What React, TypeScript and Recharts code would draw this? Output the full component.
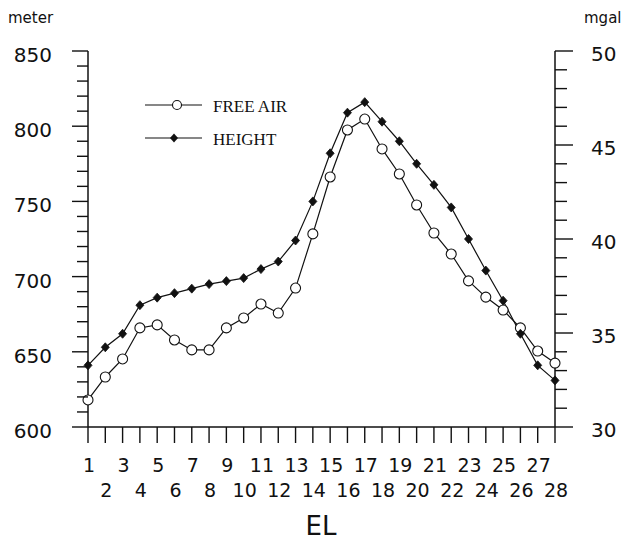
import React from 'react';
import { LineChart, Line, XAxis, YAxis, Legend } from 'recharts';

const categories = [1, 2, 3, 4, 5, 6, 7, 8, 9, 10, 11, 12, 13, 14, 15, 16, 17, 18, 19, 20, 21, 22, 23, 24, 25, 26, 27, 28];
const heightMeters = [641, 653, 662, 681, 686, 689, 692, 695, 697, 699, 705, 710, 724, 750, 782, 809, 816, 803, 790, 775, 761, 746, 725, 704, 684, 662, 641, 631];
const freeAirMgal = [31.44, 32.66, 33.62, 35.27, 35.43, 34.63, 34.1, 34.1, 35.27, 35.8, 36.54, 36.06, 37.39, 40.27, 43.3, 45.8, 46.38, 44.79, 43.46, 41.81, 40.32, 39.2, 37.77, 36.91, 36.22, 35.27, 34.04, 33.4];
const leftTicks = [600, 610, 620, 630, 640, 650, 660, 670, 680, 690, 700, 710, 720, 730, 740, 750, 760, 770, 780, 790, 800, 810, 820, 830, 840, 850];
const rightTicks = [30, 31, 32, 33, 34, 35, 36, 37, 38, 39, 40, 41, 42, 43, 44, 45, 46, 47, 48, 49, 50];

const data = categories.map((c, i) => ({ el: c, height: heightMeters[i], freeAir: freeAirMgal[i] }));

const INK = '#111';
const NUM_FONT = '"DejaVu Sans", sans-serif';
const SERIF = '"Liberation Serif", "Times New Roman", serif';

const LeftTick = (props: any) => {
  const { x, y, payload } = props;
  const major = payload.value % 50 === 0;
  return (
    <g>
      <line x1={x - (major ? 16 : 11)} x2={x} y1={y} y2={y} stroke={INK} strokeWidth={1.4} />
      {major && (
        <text x={x - 36} y={y + 4} textAnchor="end" dominantBaseline="central" fontFamily={NUM_FONT} fontSize={20} fill={INK}>
          {payload.value}
        </text>
      )}
    </g>
  );
};

const RightTick = (props: any) => {
  const { x, y, payload } = props;
  const major = payload.value % 5 === 0;
  return (
    <g>
      <line x1={x} x2={x + (major ? 18 : 12)} y1={y} y2={y} stroke={INK} strokeWidth={1.4} />
      {major && (
        <text x={x + 36} y={y + 3} textAnchor="start" dominantBaseline="central" fontFamily={NUM_FONT} fontSize={20} fill={INK}>
          {payload.value}
        </text>
      )}
    </g>
  );
};

const BottomTick = (props: any) => {
  const { x, y, payload } = props;
  const odd = payload.value % 2 === 1;
  return (
    <g>
      <line x1={x} x2={x} y1={y} y2={y + 16} stroke={INK} strokeWidth={1.4} />
      <text x={x + 1} y={y + (odd ? 38 : 63)} textAnchor="middle" dominantBaseline="central" fontFamily={NUM_FONT} fontSize={19} fill={INK}>
        {payload.value}
      </text>
    </g>
  );
};

const TopTick = (props: any) => {
  const { x, y } = props;
  return <line x1={x} x2={x} y1={y} y2={y - 15} stroke={INK} strokeWidth={1.4} />;
};

const CircleDot = (props: any) => {
  const { cx, cy } = props;
  if (cx == null || cy == null) return null;
  return <circle cx={cx} cy={cy} r={5} fill="#fff" stroke={INK} strokeWidth={1.1} />;
};

const DiamondDot = (props: any) => {
  const { cx, cy } = props;
  if (cx == null || cy == null) return null;
  return <polygon points={`${cx},${cy - 4.5} ${cx + 4},${cy} ${cx},${cy + 4.5} ${cx - 4},${cy}`} fill={INK} stroke={INK} strokeWidth={0.8} />;
};

const LegendContent = () => (
  <svg width={200} height={60} style={{ display: 'block' }}>
    <line x1={5} x2={62} y1={15} y2={15} stroke={INK} strokeWidth={1.1} />
    <circle cx={37} cy={15} r={4.5} fill="#fff" stroke={INK} strokeWidth={1.1} />
    <text x={73} y={16} dominantBaseline="central" fontFamily={SERIF} fontSize={17} fill={INK}>FREE AIR</text>
    <line x1={5} x2={62} y1={48} y2={48} stroke={INK} strokeWidth={1.1} />
    <polygon points="34,43.5 38,48 34,52.5 30,48" fill={INK} />
    <text x={73} y={49} dominantBaseline="central" fontFamily={SERIF} fontSize={17} fill={INK}>HEIGHT</text>
  </svg>
);

const ElLabel = () => (
  <text x={321} y={526} textAnchor="middle" dominantBaseline="central" fontFamily={NUM_FONT} fontSize={26} fill={INK}>EL</text>
);

export default function App() {
  return (
    <div style={{ position: 'absolute', left: 0, top: 0, width: 624, height: 542, background: '#fff' }}>
      <LineChart width={624} height={542} data={data} margin={{ top: 51, right: 0, bottom: 0, left: 0 }}>
        <XAxis
          xAxisId="bottom"
          dataKey="el"
          type="number"
          domain={[1, 28]}
          ticks={categories}
          interval={0}
          height={115}
          tickSize={0}
          tickMargin={0}
          axisLine={{ stroke: INK, strokeWidth: 1.5 }}
          tickLine={false}
          tick={<BottomTick />}
          label={{ value: 'EL', position: 'insideBottom', content: () => <ElLabel /> }}
        />
        <XAxis
          xAxisId="top"
          orientation="top"
          dataKey="el"
          type="number"
          domain={[1, 28]}
          ticks={categories}
          interval={0}
          height={0}
          tickSize={0}
          tickMargin={0}
          axisLine={{ stroke: INK, strokeWidth: 1.5 }}
          tickLine={false}
          tick={<TopTick />}
        />
        <YAxis
          yAxisId="left"
          orientation="left"
          domain={[600, 850]}
          ticks={leftTicks}
          interval={0}
          width={88}
          tickSize={0}
          tickMargin={0}
          axisLine={{ stroke: INK, strokeWidth: 1.5 }}
          tickLine={false}
          tick={<LeftTick />}
          label={{ value: 'meter', position: 'insideTopLeft', content: () => (
            <text x={8} y={18} dominantBaseline="central" fontFamily={NUM_FONT} fontSize={15} fill={INK}>meter</text>
          ) }}
        />
        <YAxis
          yAxisId="right"
          orientation="right"
          domain={[30, 50]}
          ticks={rightTicks}
          interval={0}
          width={69}
          tickSize={0}
          tickMargin={0}
          axisLine={{ stroke: INK, strokeWidth: 1.5 }}
          tickLine={false}
          tick={<RightTick />}
          label={{ value: 'mgal', position: 'insideTopRight', content: () => (
            <text x={584} y={18} dominantBaseline="central" fontFamily={NUM_FONT} fontSize={15} fill={INK}>mgal</text>
          ) }}
        />
        <Legend
          layout="horizontal"
          verticalAlign="middle"
          align="center"
          content={<LegendContent />}
          wrapperStyle={{ left: 140, top: 90, width: 200, height: 60 }}
        />
        <Line
          xAxisId="bottom"
          yAxisId="right"
          dataKey="freeAir"
          name="FREE AIR"
          stroke={INK}
          strokeWidth={1.2}
          dot={<CircleDot />}
          activeDot={false}
          isAnimationActive={false}
        />
        <Line
          xAxisId="bottom"
          yAxisId="left"
          dataKey="height"
          name="HEIGHT"
          stroke={INK}
          strokeWidth={1.2}
          dot={<DiamondDot />}
          activeDot={false}
          isAnimationActive={false}
        />
      </LineChart>
    </div>
  );
}
